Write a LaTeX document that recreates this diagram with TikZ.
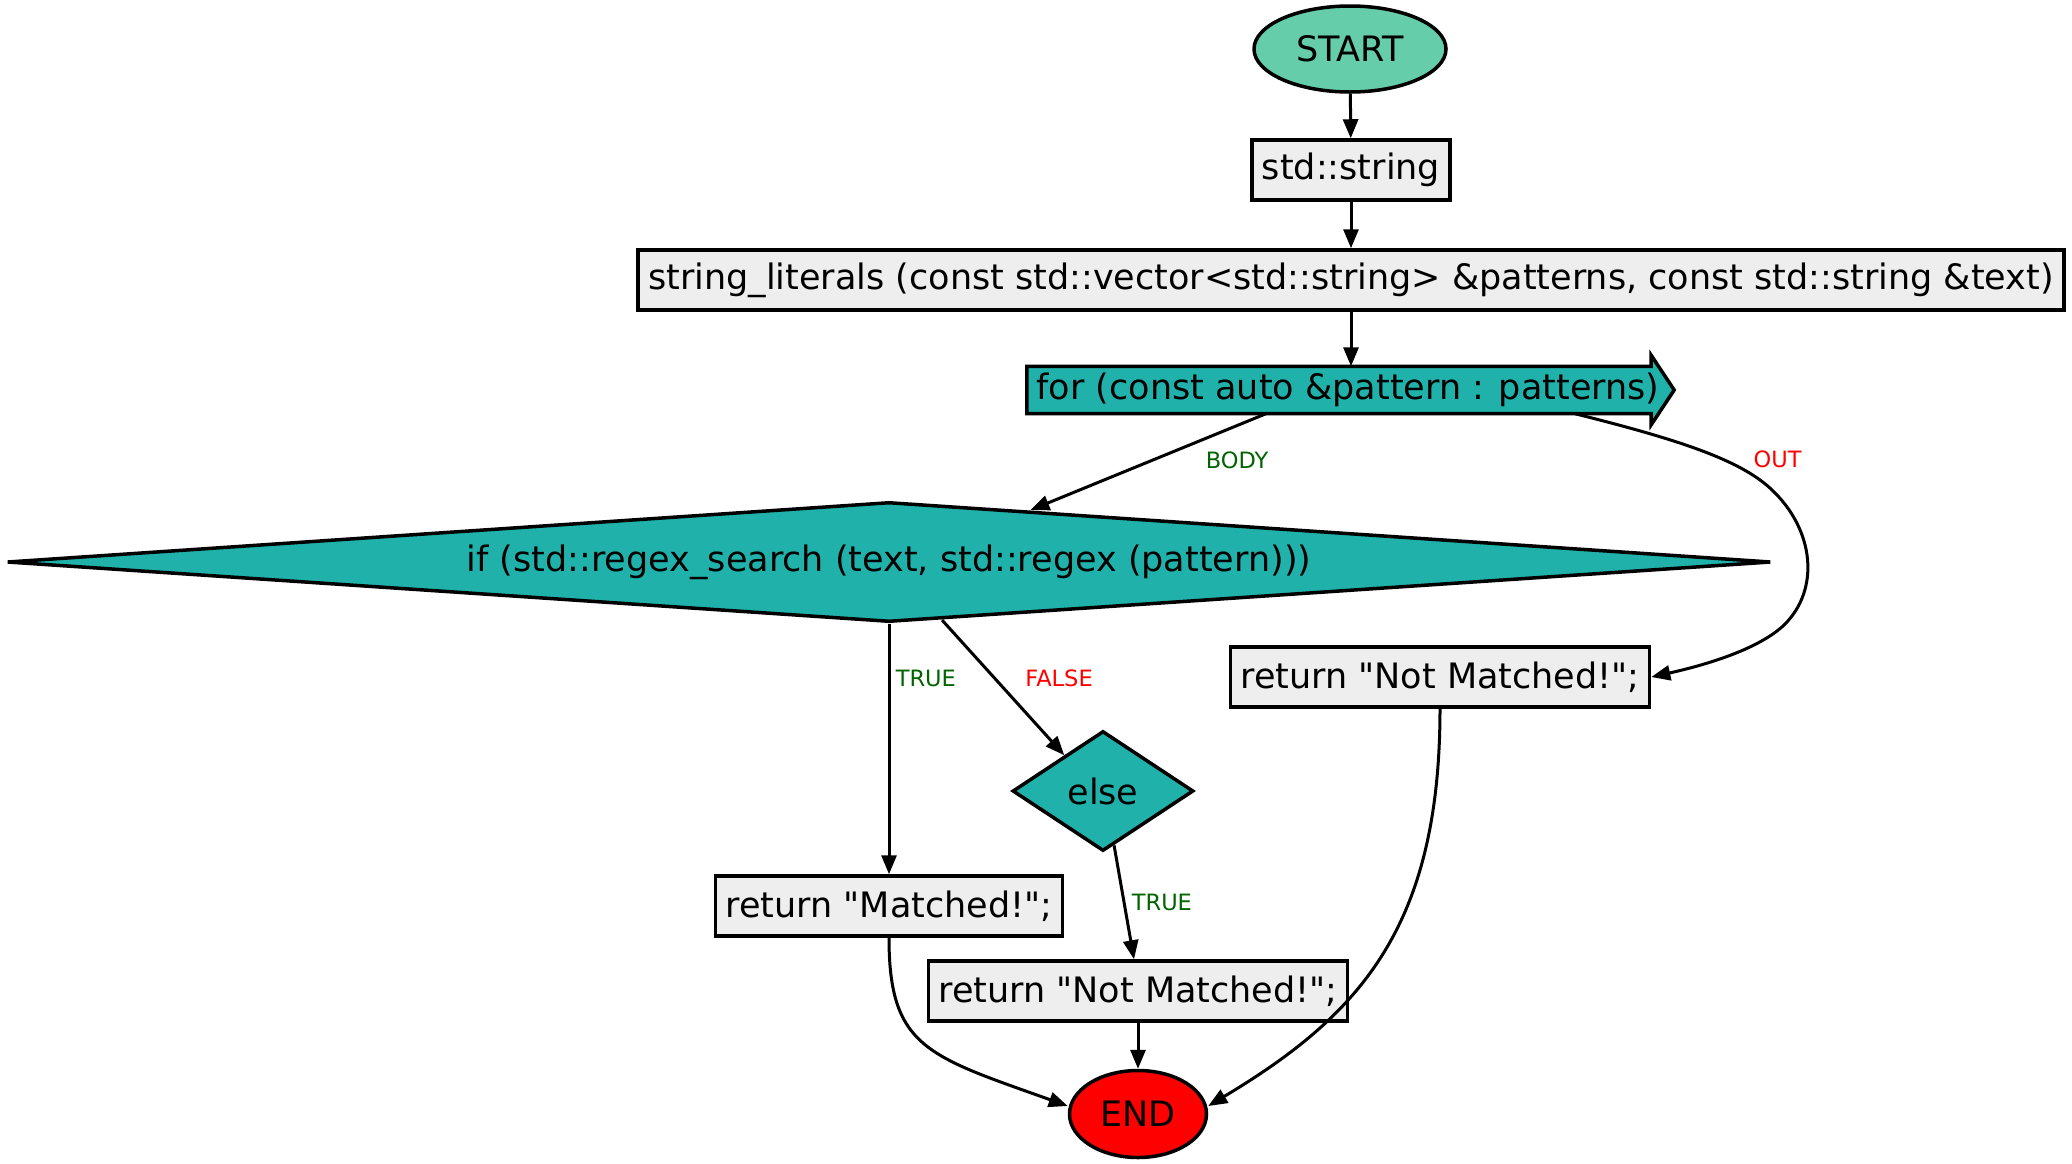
\documentclass[tikz,border=0pt]{standalone}
\usepackage{fontspec}
\setmainfont{DejaVu Sans}
\usetikzlibrary{shapes.geometric,arrows.meta,backgrounds,calc}
\definecolor{startgreen}{HTML}{66CDAA}
\definecolor{seateal}{HTML}{20B2AA}
\definecolor{boxgray}{HTML}{EEEEEE}
\definecolor{labelgreen}{HTML}{006400}
\begin{document}
\begin{tikzpicture}[x=1pt, y=-1pt,
        every node/.style={font=\fontsize{35}{42}\selectfont},
        stmt/.style={draw, rectangle, fill=boxgray, line width=3.5pt, inner xsep=10pt, minimum height=60pt},
        term/.style={draw, ellipse, line width=3.5pt, inner sep=0pt},
        test/.style={draw, diamond, fill=seateal, line width=3.5pt, inner sep=0pt},
        flow/.style={-{Triangle[length=19pt,width=15pt]}, line width=3pt},
        truelbl/.style={text=labelgreen, font=\fontsize{22.5}{27}\selectfont},
        falselbl/.style={text=red, font=\fontsize{22.5}{27}\selectfont}]
    \useasboundingbox (0,0) rectangle (2072,1163);
    \draw
        (1350, 49) node (start) [term, fill=startgreen, minimum width=192pt, minimum height=86pt] {START}
        (1351, 170) node (decl) [stmt] {std::string}
        (1351, 280) node (func) [stmt] {string\_literals (const std::vector<std::string> \&patterns, const std::string \&text)}
        (1348, 390) node (loop) [minimum width=624pt, minimum height=47pt, inner sep=0pt] {for (const auto \&pattern : patterns)}
        (889, 562) node (cond) [test, aspect=14.7, minimum width=1764pt, minimum height=120pt] {if (std::regex\_search (text, std::regex (pattern)))}
        (1440, 677) node (notfound) [stmt] {return \textquotedbl Not Matched!\textquotedbl;}
        (1103, 791) node (alt) [test, minimum width=181pt, minimum height=120pt] {else}
        (889, 906) node (found) [stmt] {return \textquotedbl Matched!\textquotedbl;}
        (1138, 991) node (nomatch) [stmt] {return \textquotedbl Not Matched!\textquotedbl;}
        (1138, 1114) node (stop) [term, fill=red, minimum width=137pt, minimum height=87pt] {END}
    ;
    % loop header drawn as an arrow
    \begin{scope}[on background layer]
        \filldraw[fill=seateal, line width=3.5pt] ([xshift=-9pt]loop.north west) -- ([xshift=-9pt]loop.north east)
            -- ([xshift=-9pt, yshift=11pt]loop.north east) -- ([xshift=14pt]loop.east)
            -- ([xshift=-9pt, yshift=-11pt]loop.south east) -- ([xshift=-9pt]loop.south east) -- ([xshift=-9pt]loop.south west) -- cycle;
    \end{scope}

    \draw[flow] (start) -- (decl);
    \draw[flow] (decl) -- (func);
    \draw[flow] (func.south) -- (func.south |- loop.north);
    \draw[flow] ([xshift=-82pt]loop.south) -- node[truelbl, pos=0.48, right=48pt] {BODY} ($(cond.north)!0.16!(cond.east)$);
    \draw[flow] ([xshift=227pt]loop.south) .. controls (1680, 440) and (1740, 460) .. node[falselbl, pos=0.8, above right] {OUT} (1771, 489)
        .. controls (1815, 530) and (1820, 590) .. (1784, 625) .. controls (1760, 648) and (1710, 664) .. (notfound.east);
    \draw[flow] (cond.south) -- node[truelbl, pos=0.22, right=2pt] {TRUE} (found.north);
    \draw[flow] ($(cond.south)!0.06!(cond.east)$) -- node[falselbl, pos=0.43, right=26pt] {FALSE} ($(alt.north)!0.42!(alt.west)$);
    \draw[flow] ($(alt.south)!0.12!(alt.east)$) -- node[truelbl, pos=0.5, right=3pt] {TRUE} ([xshift=-4pt]nomatch.north);
    \draw[flow] (found.south) .. controls +(0, 110) and +(-140, -50) .. ([yshift=8pt]stop.west);
    \draw[flow] (nomatch) -- (stop);
    \draw[flow] (notfound.south) .. controls +(0, 220) and +(150, -90) .. ([yshift=8pt]stop.east);
\end{tikzpicture}
\end{document}
